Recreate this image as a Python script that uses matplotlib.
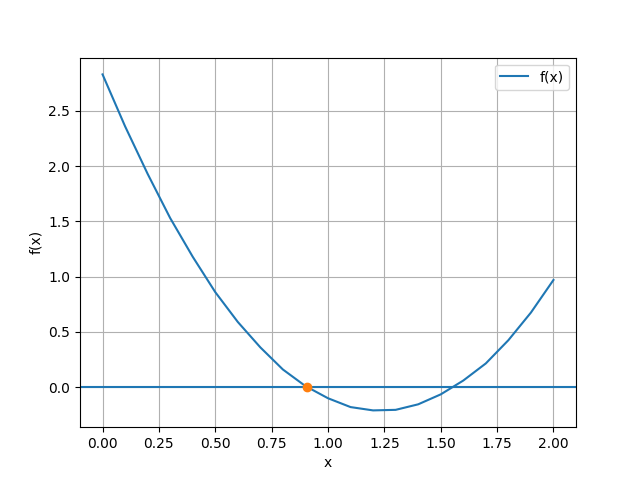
import numpy as np
import matplotlib.pyplot as plt

# sample points of the curve
x = [0.0, 0.1, 0.2, 0.3, 0.4, 0.5, 0.6, 0.7, 0.8, 0.9, 1.0,
     1.1, 1.2, 1.3, 1.4, 1.5, 1.6, 1.7, 1.8, 1.9, 2.0]
fx = [2.83, 2.36, 1.93, 1.53, 1.18, 0.86, 0.59, 0.36, 0.16, 0.01, -0.10,
      -0.18, -0.21, -0.205, -0.155, -0.065, 0.06, 0.215, 0.425, 0.675, 0.97]

# root found on the curve
root_x = [0.905]
root_y = [0.0]

fig = plt.figure(figsize=(6.4, 4.8), dpi=100)

plt.plot(x, fx, label='f(x)')
plt.axhline(0)
plt.plot(root_x, root_y, 'o')

plt.xlabel('x')
plt.ylabel('f(x)')
plt.legend(loc='upper right')
plt.grid(True)

plt.savefig('out.png', dpi=100)
plt.close()
